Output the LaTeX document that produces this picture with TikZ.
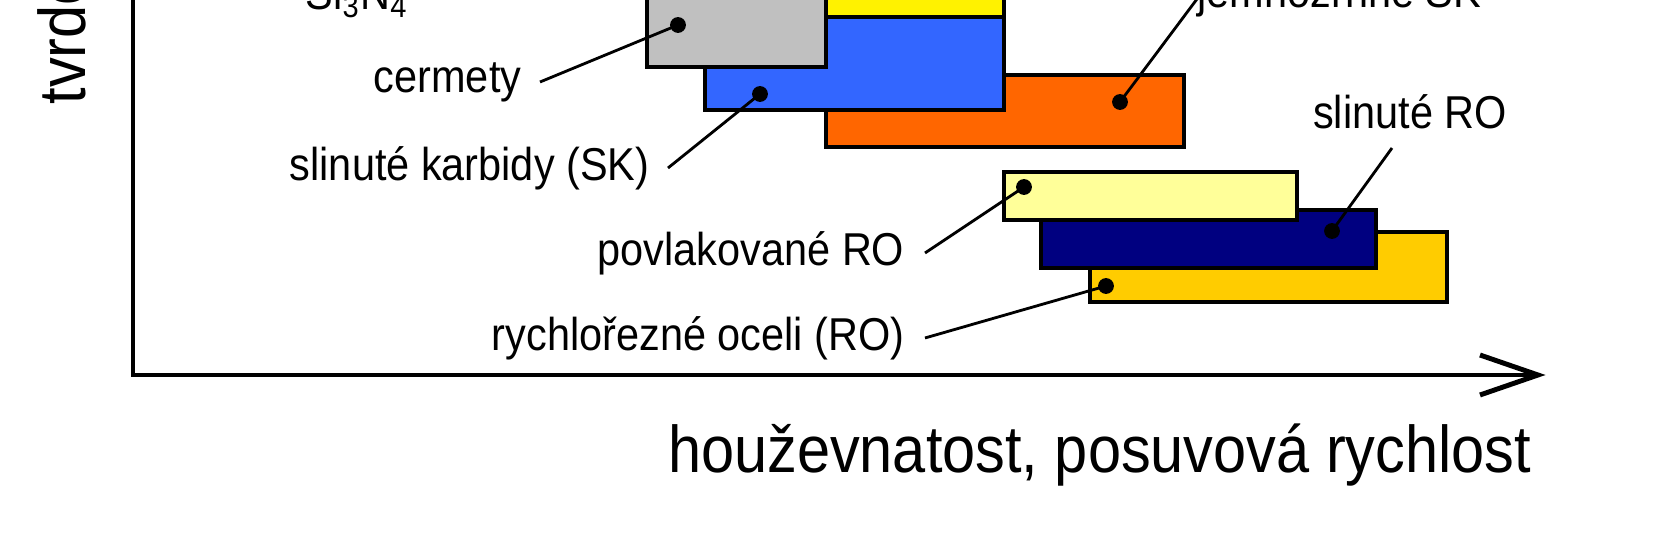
\documentclass[tikz,border=0pt]{standalone}
\usepackage{fontspec}
\setmainfont{Liberation Sans}[FakeStretch=0.9]
\usetikzlibrary{positioning}

\begin{document}
\begin{tikzpicture}[
    x=0.01cm, y=-0.01cm,
    box/.style={draw, line width=1.4pt, line join=miter},
    pointer/.style={line width=0.8pt},
    dot/.style={circle, fill, inner sep=0pt, minimum size=4.5pt},
    lbl/.style={font=\fontsize{13.1}{15}\selectfont, inner sep=0pt},
    axlbl/.style={font=\fontsize{18.8}{21}\selectfont, inner sep=0pt}
]
\useasboundingbox (0,0) rectangle (1666,540);
\begin{scope}
\clip (0,0) rectangle (1666,540);

% axes
\draw[line width=1.4pt] (133,-20) -- (133,375) coordinate (origin) -- (1538,375) coordinate (xend);
\draw[line width=1.4pt] (1480,355) -- (xend) -- (1480,395);
\node[axlbl, rotate=90, anchor=west] (ylabel) at (62,105) {tvrdost};
\node[axlbl, anchor=east] (xlabel) at (1532,455) {houževnatost, posuvová rychlost};

% upper group
\draw[box, fill={rgb,255:red,255;green,102;blue,0}] (826,75) rectangle (1184,147);
\draw[box, fill=yellow] (826,-20) rectangle (1004,17);
\draw[box, fill={rgb,255:red,51;green,102;blue,255}] (705,17) rectangle (1004,110);
\draw[box, fill={rgb,255:red,192;green,192;blue,192}] (647,-20) rectangle (826,67);

% lower group
\draw[box, fill={rgb,255:red,255;green,204;blue,0}] (1090,232) rectangle (1447,302);
\draw[box, fill={rgb,255:red,0;green,0;blue,128}] (1041,210) rectangle (1376,268);
\draw[box, fill={rgb,255:red,255;green,255;blue,153}] (1004,172) rectangle (1297,220);

% markers
\node[dot] (cer) at (678,25) {};
\node[dot] (sk) at (760,94) {};
\node[dot] (jsk) at (1120,102) {};
\node[dot] (pro) at (1024,187) {};
\node[dot] (sro) at (1332,231) {};
\node[dot] (ro) at (1106,286) {};

% labels
\node[lbl, anchor=base west] (si) at (305,10) {Si\textsubscript{3}N\textsubscript{4}};
\node[lbl, anchor=base west] (jemne) at (1197,8) {jemnozrnné SK};
\node[lbl, anchor=east] (cermety) at (522,82) {cermety};
\node[lbl, anchor=east] (karbidy) at (650,168) {slinuté karbidy (SK)};
\node[lbl, anchor=east] (povlak) at (905,253) {povlakované RO};
\node[lbl, anchor=east] (rychlo) at (905,338) {rychlořezné oceli (RO)};
\node[lbl] (slinro) at (1410,112) {slinuté RO};

% pointers
\draw[pointer] (540,82) -- (cer.center);
\draw[pointer] (668,168) -- (sk.center);
\draw[pointer] (1200,-5) -- (jsk.center);
\draw[pointer] (925,253) -- (pro.center);
\draw[pointer] (1392,148) -- (sro.center);
\draw[pointer] (925,338) -- (ro.center);
\end{scope}
\end{tikzpicture}
\end{document}
